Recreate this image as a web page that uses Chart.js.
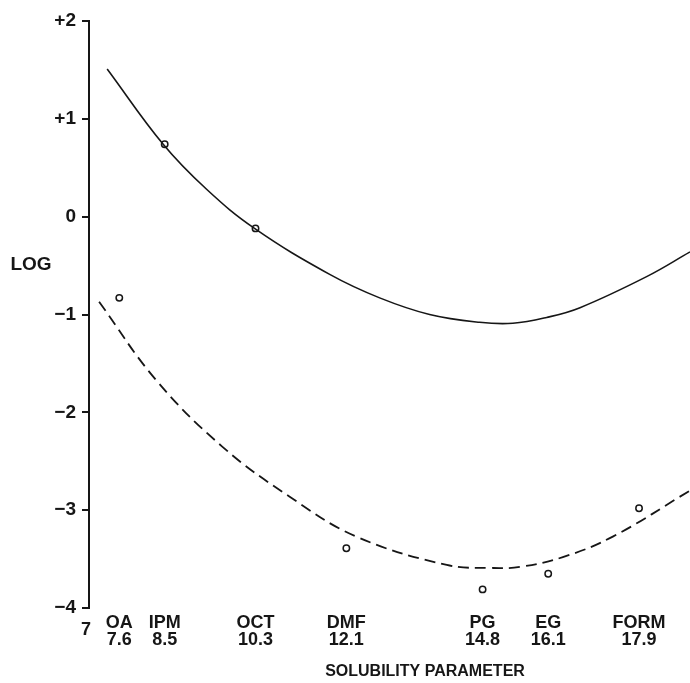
<!DOCTYPE html>
<html lang="en">
<head>
    <meta charset="UTF-8">
    <title>Log vs Solubility Parameter</title>
    <style>
        body { margin: 0; background: #fff; overflow: hidden; }
        #wrap { width: 690px; height: 683px; position: relative; }
        canvas { display: block; }
    </style>
</head>
<body>
    <div id="wrap"><canvas id="chart"></canvas></div>

    <script src="https://cdn.jsdelivr.net/npm/chart.js"></script>

    <script>
    // solvents and their solubility parameters
    const categories = ['OA', 'IPM', 'OCT', 'DMF', 'PG', 'EG', 'FORM'];
    const solubility = [7.6, 8.5, 10.3, 12.1, 14.8, 16.1, 17.9];

    // measured points (null = not plotted in that group)
    const upperLog = [null, 0.74, -0.12, null, null, null, null];
    const lowerLog = [-0.83, null, null, -3.39, -3.81, -3.65, -2.98];

    // fitted curves
    const upperCurveX = [7.36, 8.47, 9.33, 10.28, 11.77, 12.76, 13.75, 14.74, 15.40, 16.07, 16.73, 18.06, 18.91];
    const upperCurveY = [1.51, 0.74, 0.28, -0.12, -0.59, -0.83, -1.00, -1.08, -1.09, -1.03, -0.93, -0.61, -0.36];
    const lowerCurveX = [7.20, 8.33, 9.64, 10.97, 12.30, 14.09, 14.94, 15.54, 16.39, 17.38, 18.91];
    const lowerCurveY = [-0.87, -1.67, -2.35, -2.86, -3.27, -3.56, -3.59, -3.58, -3.48, -3.27, -2.80];

    const yTicks = [-4, -3, -2, -1, 0, 1, 2];

    const ink = '#161616';
    const font = '"Liberation Sans", Arial, sans-serif';

    function pts(xs, ys) {
        const out = [];
        for (let i = 0; i < xs.length; i++) {
            if (ys[i] !== null) out.push({ x: xs[i], y: ys[i] });
        }
        return out;
    }

    const labelsPlugin = {
        id: 'labels',
        afterDraw(chart) {
            const ctx = chart.ctx;
            const xs = chart.scales.x;
            ctx.save();
            ctx.fillStyle = ink;
            ctx.textAlign = 'center';
            ctx.textBaseline = 'middle';
            ctx.font = 'bold 18px ' + font;
            for (let i = 0; i < categories.length; i++) {
                const px = xs.getPixelForValue(solubility[i]);
                ctx.fillText(categories[i], px, 623);
                ctx.fillText(solubility[i].toFixed(1), px, 640);
            }
            ctx.fillText('7', xs.getPixelForValue(7) - 3, 630);
            ctx.font = 'bold 16px ' + font;
            ctx.fillText('SOLUBILITY PARAMETER', 425, 672);
            ctx.font = 'bold 19px ' + font;
            ctx.fillText('LOG', 31, 265);
            ctx.restore();
        }
    };

    new Chart(document.getElementById('chart'), {
        type: 'line',
        data: {
            datasets: [
                {
                    data: pts(upperCurveX, upperCurveY),
                    borderColor: ink,
                    borderWidth: 1.6,
                    pointRadius: 0,
                    tension: 0.4
                },
                {
                    data: pts(lowerCurveX, lowerCurveY),
                    borderColor: ink,
                    borderWidth: 1.8,
                    borderDash: [11, 6],
                    pointRadius: 0,
                    tension: 0.4
                },
                {
                    data: pts(solubility, upperLog),
                    showLine: false,
                    pointRadius: 3.2,
                    pointBorderWidth: 1.5,
                    pointBorderColor: ink,
                    pointBackgroundColor: '#fff'
                },
                {
                    data: pts(solubility, lowerLog),
                    showLine: false,
                    pointRadius: 3.2,
                    pointBorderWidth: 1.5,
                    pointBorderColor: ink,
                    pointBackgroundColor: '#fff'
                }
            ]
        },
        options: {
            responsive: true,
            maintainAspectRatio: false,
            animation: false,
            clip: false,
            layout: { autoPadding: false, padding: { top: 21, bottom: 75, left: 0, right: 0 } },
            plugins: { legend: { display: false }, tooltip: { enabled: false } },
            scales: {
                x: {
                    type: 'linear',
                    min: 7,
                    max: 18.91,
                    display: false
                },
                y: {
                    type: 'linear',
                    min: -4,
                    max: 2,
                    afterFit(scale) { scale.width = 89; },
                    afterBuildTicks(scale) { scale.ticks = yTicks.map(v => ({ value: v })); },
                    ticks: {
                        color: ink,
                        padding: 6,
                        font: { family: font, size: 19, weight: 'bold' },
                        callback: v => v > 0 ? '+' + v : (v < 0 ? '\u2212' + Math.abs(v) : '0')
                    },
                    grid: {
                        drawOnChartArea: false,
                        drawTicks: true,
                        tickLength: 7,
                        color: ink,
                        lineWidth: 2
                    },
                    border: { display: true, color: ink, width: 2 }
                }
            }
        },
        plugins: [labelsPlugin]
    });
    </script>
</body>
</html>
